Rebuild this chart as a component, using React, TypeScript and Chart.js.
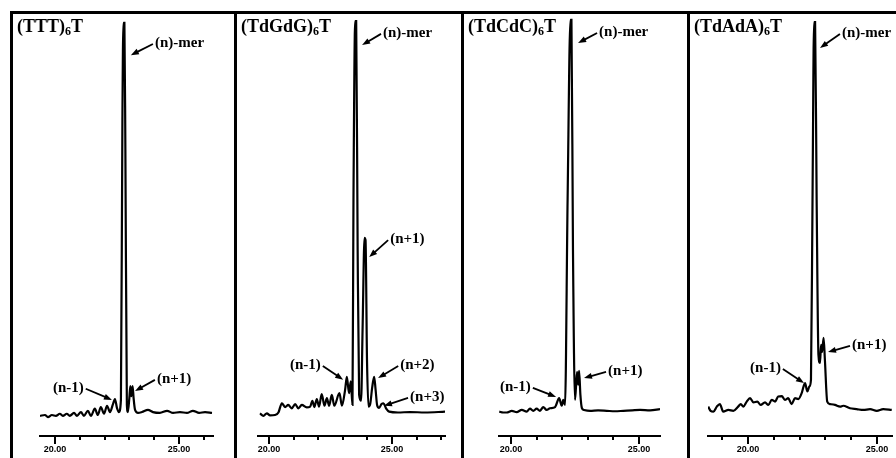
import React, { useEffect, useRef } from 'react';
import { Chart, registerables } from 'chart.js';

Chart.register(...registerables);

// ---------- data ----------
const PANEL_NAMES = ['(TTT)', '(TdGdG)', '(TdCdC)', '(TdAdA)'];
const NAME_SUB = '6';
const NAME_TAIL = 'T';

const MAJOR_TICKS = [20, 25];
const TICK_LABELS = ['20.00', '25.00'];
const MINOR_STEP = 1;

const X_MIN = [19.4, 19.55, 19.53, 18.45];
const X_MAX = [26.37, 27.15, 25.82, 25.58];
const Y_MIN = -5.5;
const Y_MAX = 95;

const P1_TIME = [19.40, 19.60, 19.72, 19.88, 20.04, 20.20, 20.32, 20.48, 20.60, 20.77, 20.89, 21.05, 21.17, 21.33, 21.45, 21.61, 21.73, 21.85, 21.98, 22.10, 22.22, 22.34, 22.42, 22.50, 22.58, 22.66, 22.72, 22.76, 22.80, 22.84, 22.90, 22.94, 23.00, 23.04, 23.08, 23.13, 23.17, 23.23, 23.35, 23.51, 23.75, 23.95, 24.23, 24.52, 24.76, 25.04, 25.32, 25.56, 25.81, 26.05, 26.33];
const P1_SIGNAL = [-0.7, -0.5, -1.0, -0.5, -0.7, -0.2, -0.7, -0.2, -0.7, 0, -0.7, 0.2, -0.7, 0.5, -0.7, 1.0, -0.5, 1.4, -0.2, 1.7, 0.2, 2.1, 3.3, 1.2, 0.2, 3.1, 69.8, 92.9, 92.9, 62.6, 1.9, 0.2, 3.6, 6.4, 4.0, 6.4, 3.6, 0.7, 0, 0.2, 0.7, 0.2, 0, 0.5, 0, 0.2, 0, 0.5, 0, 0.2, 0];

const P2_TIME = [19.63, 19.77, 19.91, 20.04, 20.24, 20.38, 20.52, 20.65, 20.78, 20.92, 21.06, 21.19, 21.33, 21.53, 21.67, 21.76, 21.84, 21.94, 22.03, 22.14, 22.25, 22.35, 22.44, 22.55, 22.65, 22.86, 22.96, 23.09, 23.16, 23.25, 23.32, 23.39, 23.43, 23.50, 23.54, 23.60, 23.66, 23.74, 23.80, 23.88, 23.92, 23.98, 24.04, 24.11, 24.19, 24.27, 24.33, 24.39, 24.47, 24.57, 24.65, 24.76, 24.88, 25.24, 25.73, 26.34, 27.15];
const P2_SIGNAL = [-0.1, -0.7, -0.1, -0.6, -0.5, 0.1, 2.3, 1.4, 1.9, 1.1, 2.1, 1.1, 1.9, 1.3, 1.5, 2.9, 1.4, 3.3, 1.5, 4.5, 1.7, 3.5, 1.7, 4.3, 1.7, 4.7, 1.7, 5.5, 8.6, 4.7, 7.5, 1.9, 50.7, 93.3, 93.3, 38.8, 4.3, 2.9, 19.8, 41.7, 41.2, 12.6, 1.5, 2.1, 6.0, 8.6, 5.5, 1.9, 1.2, 2.1, 2.3, 1.0, 0.3, 0.1, 0.2, 0.1, 0.3];

const P3_TIME = [19.54, 19.69, 19.83, 20.03, 20.22, 20.42, 20.61, 20.74, 20.87, 21.00, 21.13, 21.26, 21.39, 21.52, 21.72, 21.88, 21.98, 22.04, 22.11, 22.21, 22.32, 22.36, 22.42, 22.50, 22.58, 22.62, 22.66, 22.71, 22.77, 22.85, 23.09, 23.40, 23.74, 24.06, 24.39, 24.73, 25.04, 25.43, 25.82];
const P3_SIGNAL = [0.3, 0.1, 0.1, 0.5, 0.2, 0.7, 0.3, 1.0, 0.5, 1.0, 0.5, 1.4, 0.7, 1.1, 1.4, 3.5, 1.7, 3.1, 1.9, 50.7, 93.6, 93.6, 38.8, 3.1, 9.8, 6.7, 10.0, 4.3, 1.1, 0.7, 0.5, 0.6, 0.5, 0.4, 0.5, 0.6, 0.7, 0.6, 0.9];

const P4_TIME = [18.46, 18.55, 18.66, 18.79, 18.91, 19.04, 19.24, 19.43, 19.62, 19.72, 19.82, 19.95, 20.08, 20.21, 20.36, 20.49, 20.66, 20.79, 20.92, 21.05, 21.17, 21.31, 21.43, 21.56, 21.69, 21.82, 21.95, 22.08, 22.21, 22.30, 22.38, 22.44, 22.50, 22.56, 22.60, 22.66, 22.73, 22.79, 22.83, 22.87, 22.93, 22.98, 23.07, 23.18, 23.37, 23.57, 23.69, 23.95, 24.21, 24.47, 24.73, 24.99, 25.24, 25.57];
const P4_SIGNAL = [1.5, 0.5, 0.3, 1.5, 2.1, 0.3, 0.7, 0.5, 1.5, 2.1, 1.5, 2.7, 3.5, 2.5, 2.7, 1.9, 2.5, 1.9, 3.1, 2.7, 3.9, 4.0, 3.1, 3.5, 2.1, 3.5, 3.3, 4.7, 7.1, 5.1, 6.3, 7.9, 50.7, 93.1, 93.1, 50.7, 13.8, 11.9, 16.2, 14.5, 17.9, 12.6, 2.7, 2.1, 1.9, 1.5, 1.7, 1.1, 0.9, 0.7, 0.9, 0.5, 0.9, 0.7];

// peak labels: text, text anchor (time, signal), arrow head (time, signal)
const P1_NOTE_TEXT = ['(n)-mer', '(n-1)', '(n+1)'];
const P1_NOTE_AT = [[24.03, 88.1], [19.92, 6.0], [24.11, 8.1]];
const P1_NOTE_TO = [[23.06, 85.2], [22.30, 3.1], [23.23, 5.2]];

const P2_NOTE_TEXT = ['(n)-mer', '(n+1)', '(n-1)', '(n+2)', '(n+3)'];
const P2_NOTE_AT = [[24.63, 90.5], [24.92, 41.4], [20.85, 11.4], [25.33, 11.4], [25.73, 3.8]];
const P2_NOTE_TO = [[23.78, 87.6], [24.07, 37.1], [23.01, 7.9], [24.43, 8.3], [24.67, 1.7]];

const P3_NOTE_TEXT = ['(n)-mer', '(n-1)', '(n+1)'];
const P3_NOTE_AT = [[23.44, 90.7], [19.57, 6.2], [23.79, 10.0]];
const P3_NOTE_TO = [[22.62, 88.1], [21.76, 3.8], [22.85, 8.3]];

const P4_NOTE_TEXT = ['(n)-mer', '(n-1)', '(n+1)'];
const P4_NOTE_AT = [[23.64, 90.5], [20.08, 10.7], [24.03, 16.2]];
const P4_NOTE_TO = [[22.79, 86.9], [22.17, 7.1], [23.10, 14.5]];

const TIMES = [P1_TIME, P2_TIME, P3_TIME, P4_TIME];
const SIGNALS = [P1_SIGNAL, P2_SIGNAL, P3_SIGNAL, P4_SIGNAL];
const NOTE_TEXTS = [P1_NOTE_TEXT, P2_NOTE_TEXT, P3_NOTE_TEXT, P4_NOTE_TEXT];
const NOTE_ATS = [P1_NOTE_AT, P2_NOTE_AT, P3_NOTE_AT, P4_NOTE_AT];
const NOTE_TOS = [P1_NOTE_TO, P2_NOTE_TO, P3_NOTE_TO, P4_NOTE_TO];

// ---------- layout ----------
const PANEL_LEFT = [10, 234, 461, 687];
const PANEL_W = [221, 224, 223, 206];
const PAD_L = [27, 21, 35, 18];
const PAD_R = [21, 16, 27, 4];
const PANEL_TOP = 11;
const BORDER = 3;
const CANVAS_H = 444;
const AXIS_H = 22;

const SERIF = '"Liberation Serif", "Times New Roman", serif';

function drawArrow(ctx: CanvasRenderingContext2D, x1: number, y1: number, x2: number, y2: number) {
  const a = Math.atan2(y2 - y1, x2 - x1);
  const len = 8;
  const w = 3;
  const c = Math.cos(a);
  const s = Math.sin(a);
  ctx.beginPath();
  ctx.moveTo(x1, y1);
  ctx.lineTo(x2 - c * len * 0.7, y2 - s * len * 0.7);
  ctx.stroke();
  ctx.beginPath();
  ctx.moveTo(x2, y2);
  ctx.lineTo(x2 - len * c + w * s, y2 - len * s - w * c);
  ctx.lineTo(x2 - len * c - w * s, y2 - len * s + w * c);
  ctx.closePath();
  ctx.fill();
}

function Panel({ idx }: { idx: number }) {
  const ref = useRef<HTMLCanvasElement | null>(null);

  useEffect(() => {
    if (!ref.current) return;
    const texts = NOTE_TEXTS[idx];
    const ats = NOTE_ATS[idx];
    const tos = NOTE_TOS[idx];

    const notePlugin = {
      id: 'peakNotes' + idx,
      afterDraw(chart: any) {
        const ctx = chart.ctx as CanvasRenderingContext2D;
        const xs = chart.scales.x;
        const ys = chart.scales.y;
        ctx.save();
        // longer major ticks
        ctx.strokeStyle = '#000';
        ctx.lineWidth = 2;
        const axisY = chart.chartArea.bottom;
        MAJOR_TICKS.forEach((t) => {
          const px = Math.round(xs.getPixelForValue(t));
          if (px < chart.chartArea.left || px > chart.chartArea.right) return;
          ctx.beginPath();
          ctx.moveTo(px, axisY + 3);
          ctx.lineTo(px, axisY + 8);
          ctx.stroke();
        });
        // peak labels
        ctx.font = 'bold 15px ' + SERIF;
        ctx.textBaseline = 'middle';
        ctx.textAlign = 'left';
        ctx.fillStyle = '#000';
        ctx.lineWidth = 1.8;
        texts.forEach((txt, i) => {
          const tx = xs.getPixelForValue(ats[i][0]);
          const ty = ys.getPixelForValue(ats[i][1]);
          const hx = xs.getPixelForValue(tos[i][0]);
          const hy = ys.getPixelForValue(tos[i][1]);
          const w = ctx.measureText(txt).width;
          ctx.fillText(txt, tx, ty);
          const tailX = hx < tx ? tx - 2 : tx + w + 2;
          drawArrow(ctx, tailX, ty + 1, hx, hy);
        });
        ctx.restore();
      },
    };

    const chart = new Chart(ref.current, {
      type: 'line',
      data: {
        datasets: [
          {
            data: TIMES[idx].map((t, i) => ({ x: t, y: SIGNALS[idx][i] })),
            borderColor: '#000',
            borderWidth: 2.2,
            pointRadius: 0,
            cubicInterpolationMode: 'monotone',
            fill: false,
          },
        ],
      },
      options: {
        responsive: false,
        animation: false,
        events: [],
        layout: { padding: { left: PAD_L[idx], right: PAD_R[idx], top: 0, bottom: 0 } },
        plugins: {
          legend: { display: false },
          tooltip: { enabled: false },
          title: { display: false },
        },
        scales: {
          x: {
            type: 'linear',
            position: 'bottom',
            min: X_MIN[idx],
            max: X_MAX[idx],
            border: { display: true, color: '#000', width: 2 },
            grid: {
              display: true,
              drawOnChartArea: false,
              drawTicks: true,
              tickLength: 4,
              color: '#000',
              lineWidth: 2,
            },
            ticks: {
              autoSkip: false,
              maxRotation: 0,
              padding: 4,
              color: '#000',
              font: { family: '"Liberation Sans", Arial, sans-serif', size: 9, weight: 'bold' },
              callback: (v: any) => {
                const n = Number(v);
                const k = MAJOR_TICKS.findIndex((m) => Math.abs(m - n) < 1e-6);
                return k >= 0 ? TICK_LABELS[k] : '';
              },
            },
            afterBuildTicks: (s: any) => {
              const list: { value: number }[] = [];
              for (let v = Math.ceil(s.min / MINOR_STEP) * MINOR_STEP; v <= s.max + 1e-9; v += MINOR_STEP) {
                list.push({ value: v });
              }
              s.ticks = list;
            },
            afterFit: (s: any) => {
              s.height = AXIS_H;
            },
          },
          y: { type: 'linear', display: false, min: Y_MIN, max: Y_MAX },
        },
      } as any,
      plugins: [notePlugin],
    });
    return () => chart.destroy();
  }, [idx]);

  return (
    <div
      style={{
        position: 'absolute',
        left: PANEL_LEFT[idx],
        top: PANEL_TOP,
        width: PANEL_W[idx],
        height: CANVAS_H + 10,
        borderLeft: `${BORDER}px solid #000`,
        borderTop: `${BORDER}px solid #000`,
      }}
    >
      <canvas
        ref={ref}
        width={PANEL_W[idx]}
        height={CANVAS_H}
        style={{ position: 'absolute', left: 0, top: 0, width: PANEL_W[idx], height: CANVAS_H }}
      />
      <div
        style={{
          position: 'absolute',
          left: 4,
          top: 3,
          font: `bold 18px ${SERIF}`,
          lineHeight: '18px',
          whiteSpace: 'nowrap',
          color: '#000',
        }}
      >
        {PANEL_NAMES[idx]}
        <span style={{ fontSize: 12, position: 'relative', top: 3 }}>{NAME_SUB}</span>
        {NAME_TAIL}
      </div>
    </div>
  );
}

export default function App() {
  return (
    <div
      style={{
        position: 'absolute',
        left: 0,
        top: 0,
        width: 896,
        height: 458,
        overflow: 'hidden',
        background: '#fff',
      }}
    >
      {[0, 1, 2, 3].map((i) => (
        <Panel key={i} idx={i} />
      ))}
    </div>
  );
}
